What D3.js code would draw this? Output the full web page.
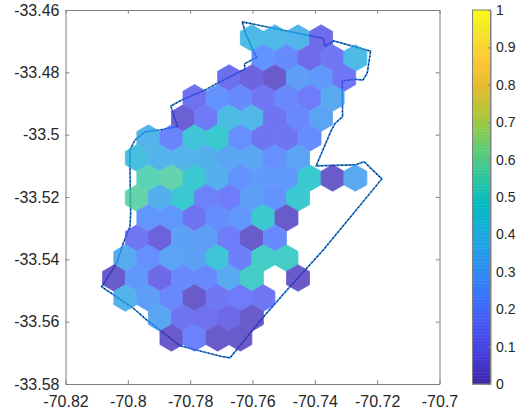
<!DOCTYPE html>
<html>
<head>
<meta charset="utf-8">
<script src="https://cdn.jsdelivr.net/npm/d3@7"></script>
<style>
  html, body { margin: 0; background: #fff; }
  svg { display: block; }
  text { font-family: "Liberation Sans", Arial, sans-serif; }
</style>
</head>
<body>
<div id="canvas"></div>
<script>
// Tick values and labels.
const xTicks = [-70.82, -70.8, -70.78, -70.76, -70.74, -70.72, -70.7];
const xTickLabels = ["-70.82", "-70.8", "-70.78", "-70.76", "-70.74", "-70.72", "-70.7"];
const yTicks = [-33.46, -33.48, -33.5, -33.52, -33.54, -33.56, -33.58];
const yTickLabels = ["-33.46", "-33.48", "-33.5", "-33.52", "-33.54", "-33.56", "-33.58"];
const colorbarTicks = [0, 0.1, 0.2, 0.3, 0.4, 0.5, 0.6, 0.7, 0.8, 0.9, 1];
const colorbarLabels = ["0", "0.1", "0.2", "0.3", "0.4", "0.5", "0.6", "0.7", "0.8", "0.9", "1"];

// Parula colormap samples.
const colorStops = ["#3e26a8", "#463cde", "#4758f8", "#3875fe", "#2b91ef", "#1ca9df", "#02bac3",
                    "#31c69f", "#64cd6f", "#abc739", "#e6bb2d", "#fec934", "#f5e924", "#f9fb15"];
const colorStopPositions = [0, 0.0794, 0.1587, 0.2381, 0.3175, 0.3968, 0.4762,
                            0.5556, 0.6349, 0.7143, 0.7937, 0.873, 0.9524, 1];

// Hexagon rows: one latitude per row, then the centre longitudes and values of that row.
const hexLat = [-33.4690, -33.4754, -33.4818, -33.4882, -33.4947, -33.5011, -33.5075, -33.5139,
                -33.5203, -33.5267, -33.5332, -33.5396, -33.5460, -33.5524, -33.5588, -33.5652];
const hexLon = [
    [-70.7602, -70.7528, -70.7454, -70.7380],
    [-70.7565, -70.7491, -70.7417, -70.7343, -70.7270],
    [-70.7675, -70.7602, -70.7528, -70.7454, -70.7380, -70.7306],
    [-70.7786, -70.7712, -70.7639, -70.7565, -70.7491, -70.7417, -70.7343],
    [-70.7823, -70.7749, -70.7675, -70.7602, -70.7528, -70.7454, -70.7380],
    [-70.7934, -70.7860, -70.7786, -70.7712, -70.7639, -70.7565, -70.7491, -70.7417],
    [-70.7971, -70.7897, -70.7823, -70.7749, -70.7675, -70.7602, -70.7528, -70.7454],
    [-70.7934, -70.7860, -70.7786, -70.7712, -70.7639, -70.7565, -70.7491, -70.7417, -70.7343, -70.7270],
    [-70.7971, -70.7897, -70.7823, -70.7749, -70.7675, -70.7602, -70.7528, -70.7454],
    [-70.7934, -70.7860, -70.7786, -70.7712, -70.7639, -70.7565, -70.7491],
    [-70.7971, -70.7897, -70.7823, -70.7749, -70.7675, -70.7602, -70.7528],
    [-70.8008, -70.7934, -70.7860, -70.7786, -70.7712, -70.7639, -70.7565, -70.7491],
    [-70.8044, -70.7971, -70.7897, -70.7823, -70.7749, -70.7675, -70.7602, -70.7454],
    [-70.8008, -70.7934, -70.7860, -70.7786, -70.7712, -70.7639, -70.7565],
    [-70.7897, -70.7823, -70.7749, -70.7675, -70.7602],
    [-70.7860, -70.7786, -70.7712, -70.7639]
];
const hexValue = [
    [0.39, 0.38, 0.36, 0.10],
    [0.24, 0.21, 0.10, 0.14, 0.39],
    [0.11, 0.07, 0.03, 0.28, 0.26, 0.14],
    [0.12, 0.24, 0.21, 0.14, 0.20, 0.16, 0.32],
    [0.05, 0.15, 0.40, 0.38, 0.13, 0.20, 0.30],
    [0.36, 0.19, 0.45, 0.48, 0.23, 0.13, 0.13, 0.22],
    [0.42, 0.36, 0.36, 0.35, 0.31, 0.31, 0.23, 0.30],
    [0.55, 0.57, 0.47, 0.35, 0.24, 0.27, 0.26, 0.47, 0.03, 0.32],
    [0.57, 0.35, 0.47, 0.18, 0.16, 0.29, 0.24, 0.47],
    [0.25, 0.25, 0.13, 0.22, 0.25, 0.48, 0.03],
    [0.14, 0.06, 0.29, 0.28, 0.16, 0.03, 0.21],
    [0.33, 0.23, 0.30, 0.29, 0.45, 0.17, 0.50, 0.50],
    [0.03, 0.26, 0.09, 0.21, 0.20, 0.32, 0.50, 0.03],
    [0.36, 0.28, 0.20, 0.03, 0.14, 0.16, 0.14],
    [0.31, 0.13, 0.12, 0.09, 0.03],
    [0.03, 0.18, 0.03, 0.03]
];

// Boundary outline.
const boundaryLon = [-70.7633, -70.7373, -70.7367, -70.7339, -70.7221, -70.7232, -70.7246, -70.7271,
    -70.7312, -70.7311, -70.7335, -70.7348, -70.7396, -70.7271, -70.7242, -70.7185, -70.7373, -70.7480,
    -70.7560, -70.7672, -70.7699, -70.7833, -70.7897, -70.7939, -70.7982, -70.8084, -70.8036, -70.8015,
    -70.7993, -70.7991, -70.7993, -70.7993, -70.7977, -70.7945, -70.7897, -70.7841, -70.7862, -70.7827,
    -70.7752, -70.7717, -70.7672, -70.7624, -70.7626, -70.7587, -70.7603, -70.7622, -70.7633];
const boundaryLat = [-33.4638, -33.4691, -33.4716, -33.4699, -33.4732, -33.4803, -33.4825, -33.4822,
    -33.4828, -33.4942, -33.4964, -33.4988, -33.5100, -33.5097, -33.5087, -33.5142, -33.5370, -33.5488,
    -33.5579, -33.5716, -33.5712, -33.5677, -33.5627, -33.5595, -33.5557, -33.5488, -33.5413, -33.5349,
    -33.5295, -33.5251, -33.5123, -33.5049, -33.5017, -33.4991, -33.4985, -33.4974, -33.4908, -33.4889,
    -33.4857, -33.4837, -33.4814, -33.4789, -33.4773, -33.4752, -33.4718, -33.4675, -33.4638];

// Dimension and color constants.
const WIDTH = 516;
const HEIGHT = 413;
const PLOT = { left: 65.5, right: 439.5, top: 10, bottom: 384 };
const BAR = { left: 472.5, right: 490.5 };
const AXIS_COLOR = "#808080";
const TEXT_COLOR = "#262626";
const FONT_SIZE = 16;
const BAR_FONT_SIZE = 14;
const HEX_RADIUS = 0.00426;
const HEX_ALPHA = 0.78;

const svg = d3.select("#canvas")
                .append("svg")
                .attr("width", WIDTH)
                .attr("height", HEIGHT);

const xScale = d3.scaleLinear().domain([-70.82, -70.7]).range([PLOT.left, PLOT.right]);
const yScale = d3.scaleLinear().domain([-33.58, -33.46]).range([PLOT.bottom, PLOT.top]);
const barScale = d3.scaleLinear().domain([0, 1]).range([PLOT.bottom, PLOT.top]);
const colorScale = d3.scaleLinear()
                        .domain(colorStopPositions)
                        .range(colorStops)
                        .interpolate(d3.interpolateRgb);

// Flattens the rows into one item per hexagon.
const hexes = hexLat.flatMap((lat, i) =>
    hexLon[i].map((lon, j) => ({ lat, lon, value: hexValue[i][j] })));

// Returns the pointy-top hexagon outline around a data point.
function hexPoints(d) {
    return d3.range(6).map(k => {
        const angle = k * Math.PI / 3;
        return [
            xScale(d.lon + HEX_RADIUS * Math.sin(angle)),
            yScale(d.lat + HEX_RADIUS * Math.cos(angle))
        ].join(",");
    }).join(" ");
}

// The boundary goes under the hexagons: a blue line with black dots on it.
const boundaryLine = d3.line()
                        .x(d => xScale(d[0]))
                        .y(d => yScale(d[1]));
const boundary = d3.zip(boundaryLon, boundaryLat);

svg.append("path")
    .attr("d", boundaryLine(boundary))
    .attr("fill", "none")
    .attr("stroke", "#2a86e0")
    .attr("stroke-width", 1.6);

svg.append("path")
    .attr("d", boundaryLine(boundary))
    .attr("fill", "none")
    .attr("stroke", "#000")
    .attr("stroke-width", 1.2)
    .attr("stroke-dasharray", "1 3");

// Group opacity so neighbouring hexagons join without seams.
svg.append("g")
    .attr("opacity", HEX_ALPHA)
    .selectAll("polygon")
    .data(hexes)
    .join("polygon")
    .attr("points", hexPoints)
    .attr("fill", d => colorScale(d.value))
    .attr("stroke", d => colorScale(d.value))
    .attr("stroke-width", 0.8)
    .attr("stroke-linejoin", "round");

// Box with ticks pointing inwards on all four sides.
const xAxisBottom = d3.axisBottom(xScale)
                        .tickValues(xTicks)
                        .tickFormat((d, i) => xTickLabels[i])
                        .tickSizeInner(-3.7)
                        .tickSizeOuter(0)
                        .tickPadding(12);
const yAxisLeft = d3.axisLeft(yScale)
                        .tickValues(yTicks)
                        .tickFormat((d, i) => yTickLabels[i])
                        .tickSizeInner(-3.7)
                        .tickSizeOuter(0)
                        .tickPadding(6);
const xAxisTop = d3.axisTop(xScale).tickValues(xTicks).tickFormat("").tickSizeInner(-3.7).tickSizeOuter(0);
const yAxisRight = d3.axisRight(yScale).tickValues(yTicks).tickFormat("").tickSizeInner(-3.7).tickSizeOuter(0);

svg.append("g").attr("transform", `translate(0, ${PLOT.bottom})`).call(xAxisBottom);
svg.append("g").attr("transform", `translate(${PLOT.left}, 0)`).call(yAxisLeft);
svg.append("g").attr("transform", `translate(0, ${PLOT.top})`).call(xAxisTop);
svg.append("g").attr("transform", `translate(${PLOT.right}, 0)`).call(yAxisRight);

// Colorbar, drawn as thin slices of the colormap.
const barSlices = d3.range(0, 256).map(i => i / 256);
svg.append("g")
    .selectAll("rect")
    .data(barSlices)
    .join("rect")
    .attr("x", BAR.left)
    .attr("width", BAR.right - BAR.left)
    .attr("y", d => barScale(d + 1 / 256))
    .attr("height", barScale(0) - barScale(1 / 256) + 0.5)
    .attr("fill", d => colorScale(d));

svg.append("rect")
    .attr("x", BAR.left)
    .attr("y", PLOT.top)
    .attr("width", BAR.right - BAR.left)
    .attr("height", PLOT.bottom - PLOT.top)
    .attr("fill", "none")
    .attr("stroke", AXIS_COLOR);

const barAxis = d3.axisRight(barScale)
                    .tickValues(colorbarTicks)
                    .tickFormat((d, i) => colorbarLabels[i])
                    .tickSizeInner(-3)
                    .tickSizeOuter(0)
                    .tickPadding(5.5);
const barAxisGroup = svg.append("g").attr("transform", `translate(${BAR.right}, 0)`).call(barAxis);

// Shared axis styling.
svg.selectAll(".domain, .tick line").attr("stroke", AXIS_COLOR);
svg.selectAll(".tick text")
    .attr("fill", TEXT_COLOR)
    .attr("font-size", FONT_SIZE)
    .attr("font-family", "'Liberation Sans', Arial, sans-serif");
barAxisGroup.selectAll(".tick text").attr("font-size", BAR_FONT_SIZE);
</script>
</body>
</html>
